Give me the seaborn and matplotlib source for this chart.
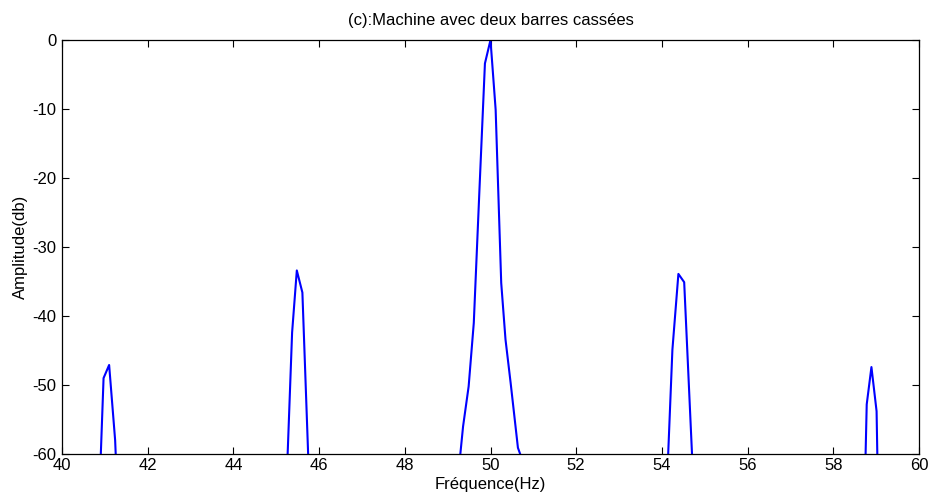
import matplotlib
matplotlib.use("Agg")
import matplotlib.pyplot as plt
import seaborn as sns
import pandas as pd
import numpy as np

# Spectrum vertices (Hz, dB); values below -60 are clipped by the axis
freq = [40.90, 40.97, 41.10, 41.24, 41.26,
        45.26, 45.37, 45.48, 45.61, 45.75,
        49.28, 49.36, 49.49, 49.61, 49.74, 49.87, 50.00, 50.12, 50.25, 50.35, 50.47, 50.64, 50.75,
        54.14, 54.245, 54.385, 54.52, 54.71,
        58.75, 58.78, 58.89, 59.01, 59.03]
amp = [-61, -49.0, -47.1, -58.0, -61,
       -61, -42.4, -33.4, -36.6, -61,
       -61, -56.0, -50.2, -41.0, -22.0, -3.4, 0.0, -10.1, -35.2, -43.4, -49.7, -59.1, -61,
       -61, -44.9, -33.9, -35.1, -61,
       -61, -52.8, -47.4, -53.8, -61]

xticks = [40, 42, 44, 46, 48, 50, 52, 54, 56, 58, 60]
yticks = [-60, -50, -40, -30, -20, -10, 0]

title = "(c):Machine avec deux barres cassées"
xlabel = "Fréquence(Hz)"
ylabel = "Amplitude(db)"

sns.set_theme(style="white")
plt.rcParams['font.family'] = ['Liberation Sans', 'DejaVu Sans']

df = pd.DataFrame({"f": freq, "a": amp})

fig = plt.figure(figsize=(9.3, 4.95), dpi=100)
ax = fig.add_axes([62/930, 1 - 454/495, (919 - 62)/930, (454 - 40)/495])
sns.lineplot(data=df, x="f", y="a", ax=ax, color="#0000ff", linewidth=1.5,
             sort=False, estimator=None)

ax.set_xlim(40, 60)
ax.set_ylim(-60, 0)
ax.set_xticks(xticks)
ax.set_yticks(yticks)
ax.set_xticklabels([str(t) for t in xticks])
ax.set_yticklabels([str(t) for t in yticks])
ax.tick_params(direction="in", length=5, width=0.8, color="black",
               top=True, right=True, bottom=True, left=True,
               labelsize=12, pad=3, labelcolor="black")
ax.tick_params(axis="y", pad=4)
for s in ax.spines.values():
    s.set_color("black")
    s.set_linewidth(0.9)
    s.set_visible(True)

ax.set_title(title, fontsize=12, pad=11, color="black")
ax.set_xlabel(xlabel, fontsize=12, labelpad=3, color="black")
ax.set_ylabel(ylabel, fontsize=12, labelpad=3, color="black")
ax.grid(False)

fig.savefig("out.png", dpi=100, facecolor="white")
